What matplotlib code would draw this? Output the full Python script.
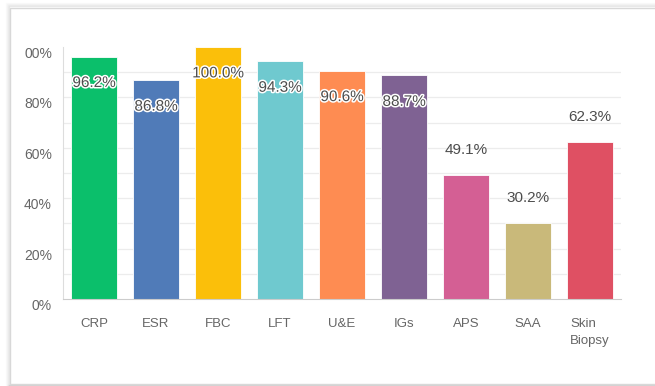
import matplotlib
matplotlib.use("Agg")
import matplotlib.pyplot as plt
import matplotlib.patheffects as pe
from matplotlib.patches import Rectangle

categories = ["CRP", "ESR", "FBC", "LFT", "U&E", "IGs", "APS", "SAA", "Skin\nBiopsy"]
values = [96.2, 86.8, 100.0, 94.3, 90.6, 88.7, 49.1, 30.2, 62.3]
colors = ["#0bbf6b", "#507bb8", "#fbbf0a", "#6fc9cf", "#fe8c52",
          "#7f6293", "#d45f94", "#c9b97a", "#df5063"]
ytick_vals = [0, 20, 40, 60, 80, 100]
ytick_labels = ["0%", "20%", "40%", "60%", "80%", "00%"]
grid_vals = [10, 20, 30, 40, 50, 60, 70, 80, 90]

W, H = 655, 386
fig = plt.figure(figsize=(W / 100, H / 100), dpi=100)
fig.patch.set_facecolor("white")

# card with soft shadow
for i, a in enumerate([0.04, 0.07, 0.11, 0.16]):
    off = 4 - i
    fig.patches.append(Rectangle(((10 - off) / W, (H - 385) / H),
                                 (W + 20) / W, (385 - 7 + off) / H,
                                 transform=fig.transFigure, facecolor="none",
                                 edgecolor=(0.5, 0.5, 0.5, a), lw=1.0, zorder=0))
fig.patches.append(Rectangle((10 / W, (H - 384) / H), (W + 20) / W, (384 - 8) / H,
                             transform=fig.transFigure, facecolor="white",
                             edgecolor="#d8d8d8", lw=1.0, zorder=0))

ax = fig.add_axes([63 / W, (H - 299) / H, (621 - 63) / W, (299 - 47) / H])
ax.set_zorder(2)
ax.set_facecolor("none")
x = list(range(len(categories)))
bars = ax.bar(x, values, width=0.73, color=colors, edgecolor="white",
              linewidth=0.6, zorder=3)

ax.set_xlim(-0.5, len(categories) - 0.5)
ax.set_ylim(0, 100)
for g in grid_vals:
    ax.axhline(g, color="#ececec", lw=0.9, zorder=0)
ax.set_yticks(ytick_vals)
ax.set_yticklabels(ytick_labels, fontsize=10, color="#666666",
                   family="Liberation Sans")
for lbl in ax.get_yticklabels():
    lbl.set_verticalalignment("top")
ax.tick_params(axis="y", which="both", length=0, pad=8)
ax.set_xticks(x)
ax.set_xticklabels(categories, fontsize=9.5, color="#666666",
                   family="Liberation Sans", va="top", ha="center",
                   multialignment="left", linespacing=1.5)
ax.tick_params(axis="x", length=0, pad=14)

for s in ["top", "right"]:
    ax.spines[s].set_visible(False)
ax.spines["left"].set_color("#dddddd")
ax.spines["bottom"].set_color("#cccccc")
ax.spines["left"].set_zorder(4)
ax.spines["bottom"].set_zorder(4)

for b, v in zip(bars, values):
    cx = b.get_x() + b.get_width() / 2
    if v > 80:
        t = ax.annotate(f"{v:.1f}%", (cx, v), xytext=(0, -19),
                        textcoords="offset points", ha="center", va="center",
                        fontsize=11, color="#4d4d4d", family="Liberation Sans",
                        zorder=5)
        t.set_path_effects([pe.withStroke(linewidth=2.2, foreground="white")])
    else:
        ax.annotate(f"{v:.1f}%", (cx, v), xytext=(0, 18),
                    textcoords="offset points", ha="center", va="center",
                    fontsize=11, color="#4d4d4d", family="Liberation Sans",
                    zorder=5)

fig.savefig("out.png", dpi=100)
